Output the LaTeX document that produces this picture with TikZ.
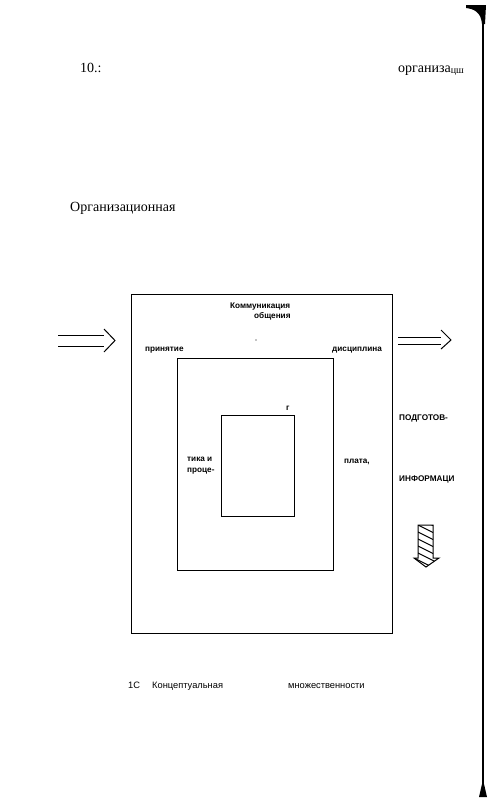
\documentclass[tikz,border=0pt]{standalone}
\usepackage{fontspec}
\setmainfont{Liberation Serif}
\newfontfamily\lsans{Liberation Sans}
\begin{document}
\begin{tikzpicture}[x=1pt,y=-1pt,
  frame/.style={draw, line width=1pt, inner sep=0pt, fill=none},
  lbl/.style={font=\lsans\fontsize{8.2}{9}\selectfont\bfseries, inner sep=0pt, anchor=base west},
  captext/.style={font=\lsans\fontsize{9.3}{10}\selectfont, inner sep=0pt, anchor=base west},
  head/.style={font=\fontsize{14}{16}\selectfont, inner sep=0pt, anchor=base west},
  flow/.style={line width=1pt}]
\useasboundingbox (0,0) rectangle (492,804);
% header texts
\node[head] (h1) at (80,72) {10.:};
\node[head] (h2) at (398,72) {организа{\fontsize{10}{11}\selectfont\raisebox{-1pt}{цш}}};
\node[head] (h3) at (70,211) {Организационная};
% boxes
\node[frame, minimum width=261pt, minimum height=339pt] (outer) at (261.5,463.5) {};
\node[frame, minimum width=156pt, minimum height=212pt] (middle) at (255.5,464) {};
\node[frame, minimum width=73pt, minimum height=101pt] (inner) at (257.5,465.5) {};
% labels
\node[lbl] (l1) at (230,308) {Коммуникация};
\node[lbl] (l2) at (254,318) {общения};
\fill (256,340) circle (0.7);
\node[lbl] (l3) at (145,351) {принятие};
\node[lbl] (l4) at (332,351) {дисциплина};
\node[lbl] (l5) at (286,410) {г};
\node[lbl] (l6) at (399,420) {ПОДГОТОВ-};
\node[lbl] (l7) at (187,461) {тика и};
\node[lbl] (l8) at (187,472) {проце-};
\node[lbl] (l9) at (344,463) {плата,};
\node[lbl] (l10) at (399,481) {ИНФОРМАЦИ};
% caption
\node[captext] (c1) at (128,688) {1С};
\node[captext] (c2) at (152,688) {Концептуальная};
\node[captext] (c3) at (288,688) {множественности};
% left input arrow
\coordinate (ina) at (58,335);
\coordinate (inb) at (58,346);
\draw[flow] (ina) -- (104,335);
\draw[flow] (inb) -- (104,346);
\draw[flow, line join=miter] (104,329) -- (115,340.5) -- (104,352);
% right output arrow
\coordinate (outa) at (398,337);
\coordinate (outb) at (398,344);
\draw[flow] (outa) -- (441,337);
\draw[flow] (outb) -- (441,344);
\draw[flow, line join=miter] (441,330) -- (451,340) -- (441,349);
% hatched down arrow
\begin{scope}
  \clip (418,525) -- (433,525) -- (433,558) -- (439,558) -- (426,567) -- (414,558) -- (418,558) -- cycle;
  \foreach \k in {0,...,8} {
    \draw[line width=1.1pt] (410,514+7*\k) -- (442,530+7*\k);
  }
\end{scope}
\draw[line width=1pt, line join=miter] (418,525) -- (433,525) -- (433,558) -- (439,558) -- (426,567) -- (414,558) -- (418,558) -- cycle;
% right margin rule
\draw[line width=1.4pt] (483,18) -- (483,792);
\fill (466,5) -- (486,5) -- (485,24) -- (482,24) .. controls (481,12) and (474,9) .. (466,8) -- cycle;
\fill (479,797) -- (487,797) -- (484,784) -- (482,784) -- cycle;
\end{tikzpicture}
\end{document}
